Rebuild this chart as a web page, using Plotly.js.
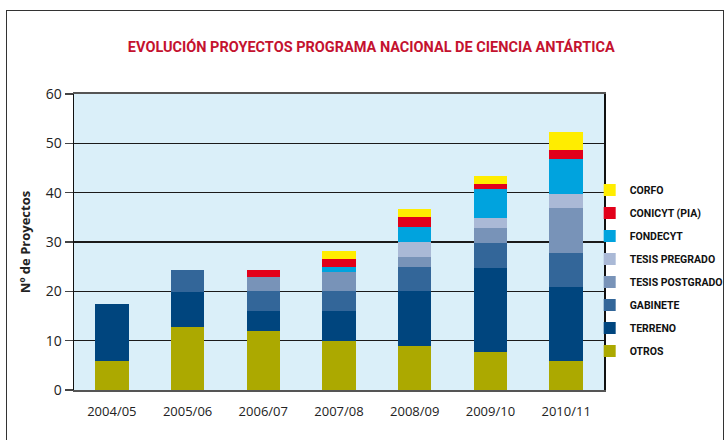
<!DOCTYPE html>
<html>
<head>
<meta charset="utf-8">
<script src="https://cdn.plot.ly/plotly-3.0.1.min.js"></script>
<style>
  body { margin: 0; background: white; }
  #wrap { position: relative; width: 728px; height: 440px; overflow: hidden; }
  #chart { width: 728px; height: 440px; }
  #frame { position: absolute; left: 6px; top: 10px; width: 716px; height: 460px;
           border: 1.5px solid #333; pointer-events: none; }
</style>
</head>
<body>
<div id="wrap">
  <div id="chart"></div>
  <div id="frame"></div>
</div>
<script>
// Data
var years = ['2004/05', '2005/06', '2006/07', '2007/08', '2008/09', '2009/10', '2010/11'];

var otros          = [5.8, 12.7, 12, 10, 9, 7.7, 5.8];
var terreno        = [11.7, 7.1, 4, 6, 11, 17.1, 15];
var gabinete       = [0, 4.6, 4, 4, 5, 5, 7];
var tesisPostgrado = [0, 0, 3, 4, 2, 3, 9];
var tesisPregrado  = [0, 0, 0, 0, 3, 2, 3];
var fondecyt       = [0, 0, 0, 0.9, 3, 5.9, 7];
var conicyt        = [0, 0, 1.4, 1.6, 2, 1, 1.8];
var corfo          = [0, 0, 0, 1.6, 1.6, 1.6, 3.6];

var names  = ['OTROS', 'TERRENO', 'GABINETE', 'TESIS POSTGRADO', 'TESIS PREGRADO', 'FONDECYT', 'CONICYT (PIA)', 'CORFO'];
var series = [otros, terreno, gabinete, tesisPostgrado, tesisPregrado, fondecyt, conicyt, corfo];
var colors = ['#aca900', '#00457e', '#336699', '#7893b8', '#aab9d6', '#00a3de', '#e2001a', '#ffed00'];

var narrow = 'Roboto, sans-serif';

var data = [];
for (var i = 0; i < series.length; i++) {
  data.push({
    x: years,
    y: series[i],
    name: names[i],
    type: 'bar',
    legendgroup: 'g' + i,
    legendrank: 100 - i,   // top of the stack first in the legend
    marker: { color: colors[i], line: { width: 0 } },
    hoverinfo: 'x+y+name'
  });
}

var layout = {
  width: 728,
  height: 440,
  barmode: 'stack',
  bargap: 0.56,
  paper_bgcolor: 'white',
  plot_bgcolor: '#daeff9',
  margin: { l: 74, r: 124, t: 94, b: 50, autoexpand: false },
  font: { family: 'Open Sans, Noto Sans, sans-serif', color: '#222', size: 13 },
  title: {
    text: '<b>EVOLUCIÓN PROYECTOS PROGRAMA NACIONAL DE CIENCIA ANTÁRTICA</b>',
    font: { family: narrow, size: 14.5, color: '#c4122f' },
    x: 0.51,
    xanchor: 'center',
    y: 0.893,
    yanchor: 'middle'
  },
  xaxis: {
    range: [-0.5, 6.5],
    showgrid: false,
    zeroline: false,
    showline: true,
    mirror: true,
    linecolor: '#555',
    linewidth: 2,
    ticks: '',
    ticklabelstandoff: 8,
    tickfont: { size: 13 },
    automargin: false
  },
  yaxis: {
    range: [0, 60],
    dtick: 10,
    showgrid: true,
    gridcolor: '#1a1a1a',
    gridwidth: 1.5,
    zeroline: false,
    showline: true,
    mirror: true,
    linecolor: '#111',
    linewidth: 1.5,
    ticks: 'outside',
    ticklen: 8,
    tickcolor: '#444',
    tickwidth: 1.5,
    tickfont: { size: 14 },
    automargin: false,
    title: {
      text: '<b>Nº de Proyectos</b>',
      font: { family: 'Open Sans, Noto Sans, sans-serif', size: 13, color: '#222' },
      standoff: 12
    }
  },
  legend: {
    x: 0.973,
    xanchor: 'left',
    y: 0.725,
    yanchor: 'top',
    traceorder: 'grouped',
    tracegroupgap: 4,
    bgcolor: 'rgba(0,0,0,0)',
    font: { family: narrow, size: 10.5, color: '#111', weight: 'bold' },
    itemwidth: 30
  },
  showlegend: true
};

Plotly.newPlot('chart', data, layout, { displayModeBar: false, staticPlot: true });
</script>
</body>
</html>
